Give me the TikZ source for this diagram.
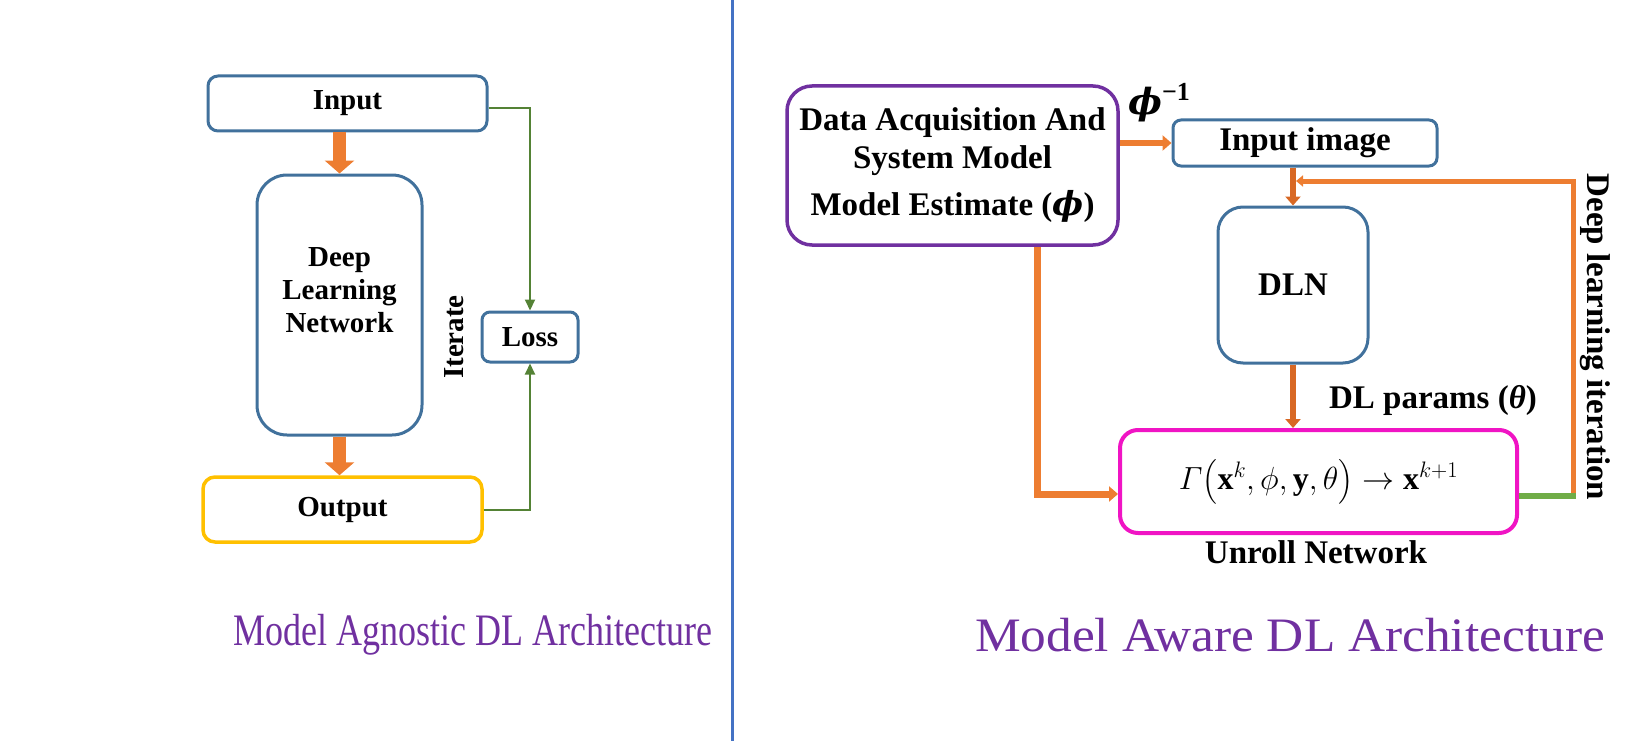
\RequirePackage{fix-cm}
\documentclass[tikz,border=0pt]{standalone}
\usepackage{amsmath}
\usepackage{fontspec}
\setmainfont{Liberation Serif}
\newfontfamily\greekserif{DejaVu Serif}
\usetikzlibrary{arrows.meta}

\definecolor{boxblue}{RGB}{65,113,156}
\definecolor{boxyellow}{RGB}{255,192,0}
\definecolor{boxpurple}{RGB}{112,48,160}
\definecolor{boxpink}{RGB}{240,20,196}
\definecolor{arroworange}{RGB}{237,125,49}
\definecolor{darkorange}{RGB}{216,104,36}
\definecolor{linegreen}{RGB}{84,130,53}
\definecolor{seggreen}{RGB}{112,173,71}
\definecolor{divblue}{RGB}{68,114,196}

\newcommand{\leftfont}{\fontsize{29}{33}\selectfont\bfseries}
\newcommand{\rightfont}{\fontsize{33}{38}\selectfont\bfseries}
\newcommand{\bphi}{{\greekserif\bfseries\itshape ϕ}}
\newcommand{\btheta}{{\bfseries\itshape θ}}

\begin{document}
\begin{tikzpicture}[x=1pt, y=-1pt,
  box/.style={line width=3pt, fill=white, inner sep=0pt, align=center},
  leftlbl/.style={font=\leftfont, align=center},
  rightlbl/.style={font=\rightfont, align=center},
  titlelbl/.style={text=boxpurple},
  fatarrow/.style={draw=arroworange, line width=13pt, -{Triangle[length=13pt, width=29pt]}},
  thinarrow/.style={draw=linegreen, line width=2pt, -{Triangle[length=11pt, width=10pt]}},
  orangeline/.style={draw=arroworange, line width=6pt, -{Triangle[length=9pt, width=15pt]}},
  blockorange/.style={draw=darkorange, line width=6pt, -{Triangle[length=9pt, width=15pt]}},
  fbline/.style={draw=arroworange, line width=5pt, -{Triangle[length=7pt, width=11pt]}},
  greenseg/.style={draw=seggreen, line width=6pt}]
\useasboundingbox (0,0) rectangle (1635,741);

% model agnostic side
\node[box, draw=boxblue, rounded corners=10pt, minimum width=279, minimum height=55, font=\leftfont] (inp) at (347.5,103.5) {Input};
\node[box, draw=boxblue, rounded corners=30pt, minimum width=165, minimum height=260] (dln) at (339.5,305) {};
\node[leftlbl] (dlntext) at (339.5,290) {Deep\\Learning\\Network};
\node[box, draw=boxblue, rounded corners=8pt, minimum width=96, minimum height=50, font=\leftfont] (loss) at (530,337) {Loss};
\node[box, draw=boxyellow, line width=3.5pt, rounded corners=12pt, minimum width=279, minimum height=65, font=\leftfont] (out) at (342.5,509.5) {Output};
\node[leftlbl, rotate=90] (iter) at (454,337) {Iterate};

\draw[fatarrow] (dln.north |- inp.south) -- (dln.north);
\draw[fatarrow] (dln.south) -- (dln.south |- out.north);
\draw[thinarrow] ([yshift=-5pt]inp.east) -| (loss.north);
\draw[thinarrow] (out.east) -| (loss.south);

\node[titlelbl, font=\fontsize{45}{50}\selectfont] (lefttitle) at (473,635) {\scalebox{0.8}[1]{Model Agnostic DL Architecture}};

% divider
\coordinate (divtop) at (732,0);
\coordinate (divbot) at (732,741);
\draw[divblue, line width=3pt] (divtop) -- (divbot);

% model aware side
\node[box, draw=boxpurple, line width=3.5pt, rounded corners=25pt, minimum width=331, minimum height=159, font=\rightfont] (data) at (952.5,165.5) {Data Acquisition And\\System Model\\[9pt]Model Estimate (\bphi)};
\node[font=\fontsize{36}{42}\selectfont] (phiinv) at (1159,103) {\bphi\raisebox{14pt}{\fontsize{26}{28}\selectfont\bfseries −1}};
\node[box, draw=boxblue, rounded corners=8pt, minimum width=264, minimum height=46, font=\rightfont] (imgin) at (1305,143) {Input image};
\node[box, draw=boxblue, rounded corners=25pt, minimum width=150, minimum height=156, font=\rightfont] (dlnet) at (1293,285) {DLN};
\node[box, draw=boxpink, line width=4pt, rounded corners=18pt, minimum width=397, minimum height=103, font=\fontsize{32}{38}\selectfont] (unroll) at (1318.5,481.5) {$\varGamma\bigl(\mathbf{x}^{k},\phi,\mathbf{y},\theta\bigr)\to\mathbf{x}^{k+1}$};
\node[rightlbl] (unrolltext) at (1316,552) {Unroll Network};
\node[rightlbl] (params) at (1433,400) {DL params (\btheta)};
\node[rightlbl, rotate=-90] (dliter) at (1595,337) {Deep learning iteration};

\coordinate (lbend) at (1037,494);
\coordinate (fbbot) at (1573,496);
\coordinate (fbtop) at (1573,181);

\draw[orangeline] (data.east |- imgin.west) -- (imgin.west);
\draw[orangeline, line width=7pt] (data.south -| lbend) -- (lbend) -- (lbend -| unroll.west);
\draw[blockorange] (dlnet.north |- imgin.south) -- (dlnet.north);
\draw[blockorange] (dlnet.south) -- (dlnet.south |- unroll.north);
\draw[fbline] (fbbot) -- (fbtop) -- ([xshift=3pt]fbtop -| dlnet.north);
\draw[greenseg, shorten >=-3pt] (fbbot -| unroll.east) -- (fbbot);

\node[titlelbl, font=\fontsize{48}{54}\selectfont] (righttitle) at (1290,635) {\scalebox{1.07}[1]{Model Aware DL Architecture}};
\end{tikzpicture}
\end{document}
